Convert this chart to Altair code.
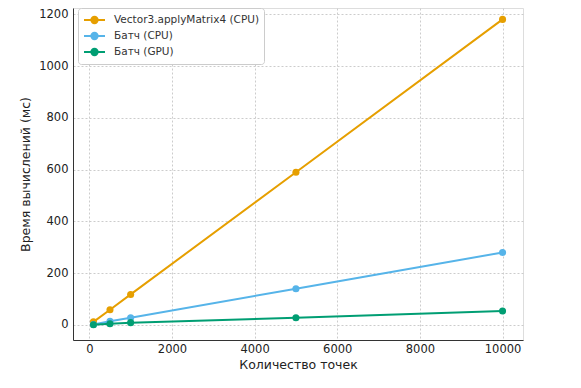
import altair as alt
import pandas as pd

points = [100, 500, 1000, 5000, 10000]
series_names = ["Vector3.applyMatrix4 (CPU)", "Батч (CPU)", "Батч (GPU)"]
vector_cpu = [12, 59, 118, 590, 1180]
batch_cpu = [2, 14, 28, 140, 280]
batch_gpu = [1, 5, 9, 28, 54]
colors = ["#E69F00", "#56B4E9", "#009E73"]
x_ticks = [0, 2000, 4000, 6000, 8000, 10000]
y_ticks = [0, 200, 400, 600, 800, 1000, 1200]

rows = []
for name, vals in zip(series_names, [vector_cpu, batch_cpu, batch_gpu]):
    for p, v in zip(points, vals):
        rows.append({"n": p, "t": v, "series": name})
df = pd.DataFrame(rows)

font = "DejaVu Sans"
color = alt.Color(
    "series:N",
    scale=alt.Scale(domain=series_names, range=colors),
    sort=series_names,
    legend=alt.Legend(
        title=None,
        orient="none",
        legendX=5,
        legendY=0,
        symbolType="M-1,0L1,0M-0.3,0A0.3,0.3 0 1,1 0.3,0A0.3,0.3 0 1,1 -0.3,0Z",
        symbolSize=441,
        symbolStrokeWidth=2,
        clipHeight=14,
        labelFont=font,
        labelFontSize=10.5,
        labelLimit=300,
        labelOffset=8,
        labelColor="#333333",
        rowPadding=2,
        padding=5,
        strokeColor="#cccccc",
        fillColor="white",
        cornerRadius=3,
    ),
)

common_axis = dict(
    format="d",
    grid=True,
    gridDash=[2, 2],
    gridColor="#cccccc",
    ticks=False,
    domainColor="#333333",
    labelColor="#222222",
    titleColor="#222222",
    labelFont=font,
    titleFont=font,
    labelFontSize=11.5,
    titleFontSize=12.5,
    titleFontWeight="normal",
)

x = alt.X(
    "n:Q",
    scale=alt.Scale(domain=[-395, 10495], nice=False, zero=False),
    axis=alt.Axis(title="Количество точек", values=x_ticks, labelPadding=3, titlePadding=4, **common_axis),
)
y = alt.Y(
    "t:Q",
    scale=alt.Scale(domain=[-58, 1224], nice=False, zero=False),
    axis=alt.Axis(title="Время вычислений (мс)", values=y_ticks, labelPadding=5, titlePadding=6, **common_axis),
)

chart = (
    alt.Chart(df)
    .mark_line(strokeWidth=2, point=alt.OverlayMarkDef(size=50, filled=True, opacity=1))
    .encode(x=x, y=y, color=color)
    .properties(
        width=450,
        height=332,
        autosize=alt.AutoSizeParams(type="none"),
        padding={"left": 65, "top": 0, "right": 40, "bottom": 40},
    )
    .configure_view(stroke=None)
    .configure(background="white")
)

chart.save("out.html", embed_options={"renderer": "svg", "actions": False})
